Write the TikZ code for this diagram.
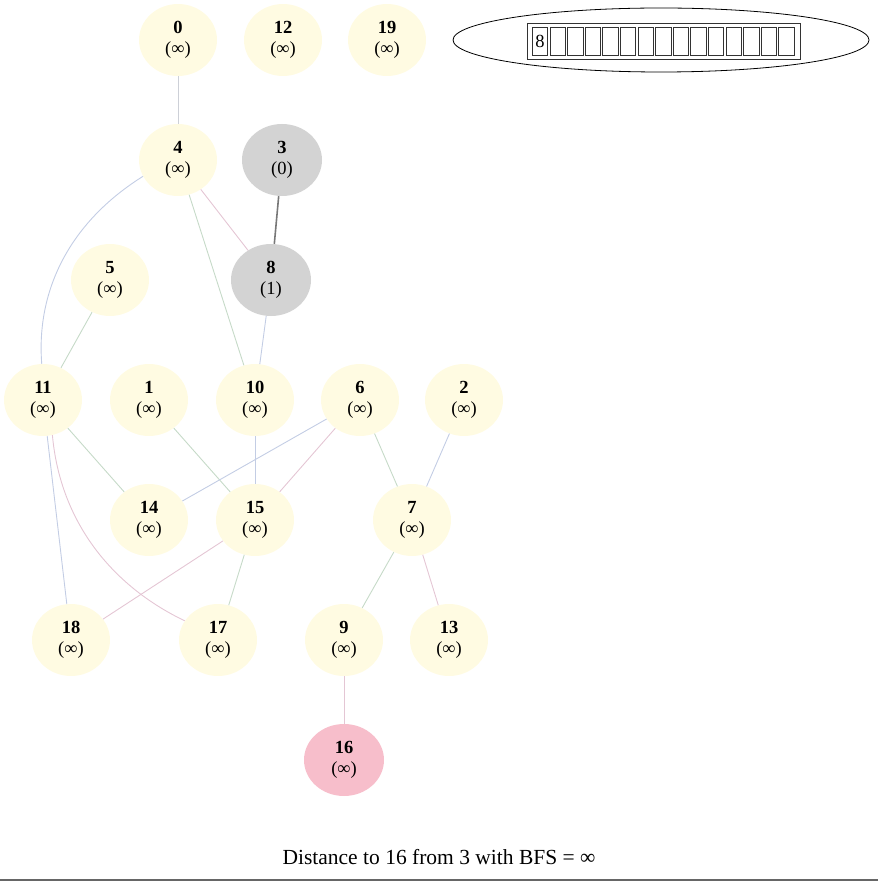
\documentclass[tikz,border=0pt]{standalone}
\usepackage{fontspec}
\setmainfont{Liberation Serif}
\usetikzlibrary{shapes.geometric}
\definecolor{nodeyel}{RGB}{255,251,226}
\definecolor{nodegray}{RGB}{211,211,211}
\definecolor{nodepink}{RGB}{247,190,203}
\definecolor{egray}{RGB}{205,208,215}
\definecolor{epink}{RGB}{228,198,212}
\definecolor{egreen}{RGB}{198,218,200}
\definecolor{eblue}{RGB}{195,205,228}
\definecolor{edark}{RGB}{120,120,120}
\tikzset{
  vert/.style={ellipse, draw=none, fill=nodeyel, minimum width=78pt, minimum height=72pt, inner sep=0pt, align=center, font=\fontsize{18.5}{20.5}\selectfont},
  visited/.style={vert, fill=nodegray, minimum width=80pt},
  target/.style={vert, fill=nodepink, minimum width=80pt},
  edge/.style={draw=egray, line width=0.9pt},
  cell/.style={draw=black!80, line width=0.8pt, minimum width=15.4pt, minimum height=28pt, inner sep=0pt},
}
\newcommand{\vlab}[1]{\textbf{#1}\\(∞)}
\begin{document}
\begin{tikzpicture}[x=1pt,y=-1pt]
\useasboundingbox (0,0) rectangle (878,882);
% nodes
\node[vert] (n0) at (178,40) {\vlab{0}};
\node[vert] (n12) at (283,40) {\vlab{12}};
\node[vert] (n19) at (387,40) {\vlab{19}};
\node[vert] (n4) at (178,160) {\vlab{4}};
\node[visited] (n3) at (282,160) {\textbf{3}\\(0)};
\node[vert] (n5) at (110,280) {\vlab{5}};
\node[visited] (n8) at (271,280) {\textbf{8}\\(1)};
\node[vert] (n11) at (43,400) {\vlab{11}};
\node[vert] (n1) at (149,400) {\vlab{1}};
\node[vert] (n10) at (255,400) {\vlab{10}};
\node[vert] (n6) at (360,400) {\vlab{6}};
\node[vert] (n2) at (464,400) {\vlab{2}};
\node[vert] (n14) at (149,520) {\vlab{14}};
\node[vert] (n15) at (255,520) {\vlab{15}};
\node[vert] (n7) at (412,520) {\vlab{7}};
\node[vert] (n18) at (71,640) {\vlab{18}};
\node[vert] (n17) at (218,640) {\vlab{17}};
\node[vert] (n9) at (344,640) {\vlab{9}};
\node[vert] (n13) at (449,640) {\vlab{13}};
\node[target] (n16) at (344,760) {\vlab{16}};
% edges
\draw[edge] (n0) -- (n4);
\draw[edge,draw=epink] (n4) -- (n8);
\draw[edge,draw=egreen] (n4) -- (n10);
\draw[edge,draw=eblue] (n4.205) .. controls (70,222) and (36,290) .. (n11.92);
\draw[edark, line width=1.6pt] (n3) -- (n8);
\draw[edge,draw=eblue] (n8) -- (n10);
\draw[edge,draw=egreen] (n5) -- (n11);
\draw[edge,draw=egreen] (n11) -- (n14);
\draw[edge,draw=eblue] (n11) -- (n18);
\draw[edge,draw=epink] (n11.285) .. controls (60,520) and (110,585) .. (n17.150);
\draw[edge,draw=egreen] (n1) -- (n15);
\draw[edge,draw=eblue] (n10) -- (n15);
\draw[edge,draw=eblue] (n6) -- (n14);
\draw[edge,draw=epink] (n6) -- (n15);
\draw[edge,draw=egreen] (n6) -- (n7);
\draw[edge,draw=eblue] (n2) -- (n7);
\draw[edge,draw=epink] (n15) -- (n18);
\draw[edge,draw=egreen] (n15) -- (n17);
\draw[edge,draw=egreen] (n7) -- (n9);
\draw[edge,draw=epink] (n7) -- (n13);
\draw[edge,draw=epink] (n9) -- (n16);
% queue
\node[ellipse, draw=black, line width=0.8pt, minimum width=416pt, minimum height=64pt, inner sep=0pt] (queue) at (661,40) {};
\node[draw=black!80, line width=0.8pt, minimum width=273pt, minimum height=36pt, inner sep=0pt] (qbox) at (663.5,41) {};
\foreach \i in {0,...,14} {
  \node[cell] (c\i) at ({540+17.6*\i},41) {};
}
\node[font=\fontsize{18.5}{19.5}\selectfont, inner sep=0pt] (c0lab) at (c0) {8};
% caption
\node[font=\fontsize{21.5}{24}\selectfont] (caption) at (439,857) {Distance to 16 from 3 with BFS = ∞};
\coordinate (bl) at (0,880);
\coordinate (br) at (878,880);
\draw[black!60, line width=1.5pt] (bl) -- (br);
\end{tikzpicture}
\end{document}
